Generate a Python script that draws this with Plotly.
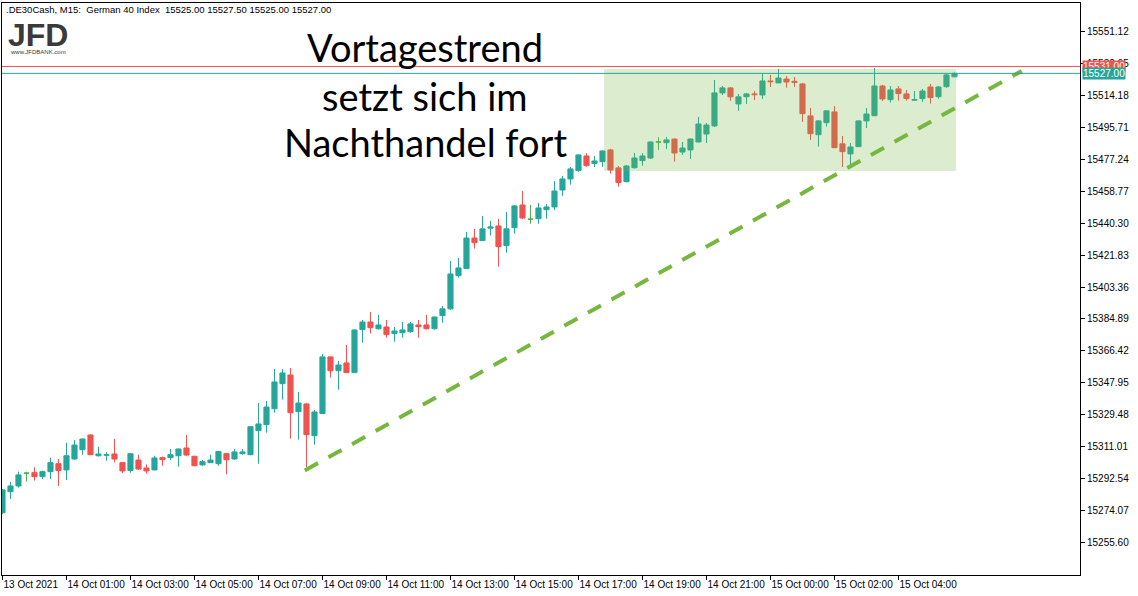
import plotly.graph_objects as go

# ---- data (M15 candles, index 0 = 13 Oct 23:00) ----
opens = [15272.7, 15284.9, 15288.2, 15295.6, 15295.9, 15293.6, 15296.5, 15301.1, 15297.5, 15303.8,
         15309.2, 15317.7, 15305.7, 15306.0, 15306.7, 15301.7, 15297.1, 15303.2, 15298.6, 15297.5,
         15304.6, 15304.6, 15305.7, 15310.2, 15305.4, 15300.4, 15301.7, 15301.1, 15306.9, 15303.8,
         15306.9, 15306.3, 15320.2, 15323.7, 15332.9, 15347.4, 15352.4, 15331.2, 15335.7, 15317.3,
         15330.1, 15362.9, 15354.9, 15359.4, 15353.8, 15378.7, 15383.1, 15379.2, 15380.2, 15376.4,
         15376.9, 15377.5, 15381.4, 15381.4, 15379.2, 15386.8, 15390.7, 15409.9, 15414.0, 15431.7,
         15430.2, 15437.4, 15438.7, 15427.3, 15437.7, 15450.8, 15442.6, 15442.9, 15448.1, 15449.7,
         15459.5, 15465.9, 15470.7, 15479.2, 15474.8, 15475.9, 15482.7, 15472.3, 15464.3, 15472.4,
         15476.5, 15478.0, 15487.3, 15486.9, 15489.0, 15481.5, 15482.7, 15487.3, 15491.9, 15496.6,
         15515.7, 15518.6, 15509.3, 15513.5, 15515.1, 15514.5, 15522.6, 15521.5, 15523.7, 15522.4,
         15520.9, 15502.4, 15491.5, 15498.5, 15504.7, 15486.2, 15480.4, 15484.6, 15499.5, 15502.5,
         15519.7, 15511.8, 15518.0, 15515.1, 15511.5, 15512.4, 15519.1, 15513.5, 15519.3, 15525.0]
highs = [15286.5, 15290.5, 15296.5, 15296.5, 15299.0, 15297.1, 15304.6, 15303.8, 15313.2, 15314.8,
         15315.6, 15318.0, 15310.9, 15307.7, 15315.4, 15302.0, 15307.3, 15306.3, 15300.7, 15305.7,
         15305.2, 15309.6, 15309.8, 15317.7, 15305.6, 15303.2, 15306.3, 15308.5, 15307.3, 15309.6,
         15309.6, 15322.7, 15336.2, 15337.4, 15355.9, 15355.9, 15356.5, 15342.6, 15336.0, 15332.2,
         15364.6, 15363.1, 15360.6, 15369.8, 15378.7, 15384.3, 15388.9, 15387.2, 15384.3, 15380.2,
         15383.1, 15383.1, 15384.3, 15387.2, 15386.2, 15392.4, 15418.4, 15420.2, 15435.2, 15437.0,
         15444.5, 15441.6, 15442.7, 15446.8, 15450.8, 15458.9, 15450.8, 15452.0, 15451.4, 15464.7,
         15467.6, 15472.8, 15480.0, 15480.8, 15479.2, 15482.3, 15483.3, 15473.4, 15474.0, 15480.9,
         15480.9, 15487.5, 15490.0, 15490.2, 15489.2, 15487.3, 15489.2, 15501.8, 15498.3, 15523.2,
         15519.7, 15519.1, 15515.1, 15515.7, 15516.8, 15526.7, 15526.1, 15529.5, 15525.5, 15524.9,
         15521.5, 15507.0, 15500.0, 15505.5, 15508.1, 15490.8, 15486.7, 15499.7, 15507.0, 15530.1,
         15520.3, 15519.7, 15519.7, 15517.4, 15516.8, 15518.0, 15520.9, 15519.7, 15526.7, 15527.5]
lows = [15272.0, 15280.7, 15287.2, 15290.7, 15291.3, 15292.2, 15292.2, 15288.2, 15291.7, 15303.5,
        15306.3, 15306.0, 15305.2, 15302.8, 15301.9, 15295.6, 15295.9, 15297.5, 15295.3, 15297.3,
        15299.9, 15303.2, 15299.4, 15305.7, 15299.7, 15299.9, 15301.5, 15299.9, 15295.0, 15303.4,
        15306.3, 15306.0, 15301.1, 15319.1, 15330.6, 15338.2, 15315.6, 15315.0, 15299.2, 15312.1,
        15329.9, 15350.9, 15343.9, 15353.6, 15353.6, 15371.1, 15376.4, 15378.7, 15374.0, 15371.7,
        15374.0, 15376.9, 15374.0, 15378.7, 15378.7, 15382.7, 15390.1, 15408.8, 15413.8, 15425.6,
        15430.0, 15433.1, 15415.1, 15423.2, 15434.2, 15442.7, 15440.0, 15440.0, 15442.9, 15448.0,
        15456.1, 15462.6, 15470.1, 15473.0, 15472.8, 15473.0, 15469.0, 15461.4, 15464.0, 15471.9,
        15473.6, 15477.5, 15482.7, 15483.3, 15475.9, 15479.8, 15477.5, 15487.1, 15486.7, 15496.0,
        15514.5, 15511.0, 15505.3, 15509.3, 15511.6, 15512.2, 15519.1, 15521.3, 15518.7, 15519.1,
        15498.9, 15488.5, 15484.6, 15496.2, 15483.8, 15472.8, 15474.0, 15484.4, 15495.4, 15502.3,
        15511.0, 15510.1, 15511.2, 15511.2, 15511.2, 15510.5, 15509.5, 15512.4, 15518.7, 15525.0]
closes = [15285.9, 15288.2, 15294.6, 15295.6, 15293.6, 15296.5, 15301.7, 15297.1, 15305.7, 15311.9,
          15315.4, 15306.3, 15306.7, 15306.3, 15303.8, 15296.9, 15306.9, 15298.0, 15296.9, 15304.4,
          15303.4, 15306.3, 15309.6, 15306.1, 15299.9, 15302.3, 15303.2, 15308.1, 15303.4, 15307.9,
          15307.9, 15322.5, 15324.1, 15333.9, 15348.4, 15353.6, 15330.6, 15336.2, 15317.9, 15331.0,
          15362.9, 15354.9, 15358.2, 15353.8, 15378.5, 15383.1, 15379.8, 15381.4, 15375.8, 15377.9,
          15378.5, 15382.0, 15380.4, 15379.2, 15386.0, 15390.7, 15410.9, 15414.4, 15431.7, 15429.0,
          15437.0, 15438.1, 15426.7, 15437.0, 15450.3, 15443.3, 15442.6, 15449.1, 15449.7, 15458.9,
          15465.9, 15471.7, 15479.8, 15473.6, 15476.3, 15482.1, 15471.1, 15463.8, 15473.4, 15478.0,
          15479.2, 15487.3, 15487.3, 15488.5, 15480.9, 15483.8, 15489.0, 15497.7, 15497.1, 15515.7,
          15518.6, 15513.4, 15513.4, 15515.1, 15514.7, 15522.6, 15522.2, 15524.3, 15522.0, 15521.8,
          15503.7, 15492.1, 15499.5, 15505.3, 15484.0, 15481.7, 15484.4, 15499.5, 15503.5, 15519.7,
          15512.2, 15517.4, 15515.3, 15512.4, 15511.8, 15516.8, 15513.0, 15519.1, 15526.1, 15527.0]

tick_index = [0, 8, 16, 24, 32, 40, 48, 56, 64, 72, 80, 88, 96, 104, 112]
tick_labels = ["13 Oct 2021", "14 Oct 01:00", "14 Oct 03:00", "14 Oct 05:00", "14 Oct 07:00",
               "14 Oct 09:00", "14 Oct 11:00", "14 Oct 13:00", "14 Oct 15:00", "14 Oct 17:00",
               "14 Oct 19:00", "14 Oct 21:00", "15 Oct 00:00", "15 Oct 02:00", "15 Oct 04:00"]

price_ticks = [15255.60, 15274.07, 15292.54, 15311.01, 15329.48, 15347.95, 15366.42, 15384.89,
               15403.36, 15421.83, 15440.30, 15458.77, 15477.24, 15495.71, 15514.18, 15532.65,
               15551.12]

trend_x = [37.8, 127.4]
trend_y = [15297.2, 15528.4]

box_x = [75.2, 119.2]
box_y = [15470.5, 15529.5]

ask_price = 15531.00
bid_price = 15527.00

header = ".DE30Cash, M15:\u00a0\u00a0German 40 Index\u00a0\u00a015525.00 15527.50 15525.00 15527.00"
note_lines = ["Vortagestrend", "setzt sich im", "Nachthandel fort"]

# ---- colours ----
UP = "#26a69a"
DOWN = "#ef5350"
DOJI = "#4caf50"
TREND = "rgb(118,184,62)"

n = len(opens)
idx = list(range(n))
normal = [i for i in idx if opens[i] != closes[i]]
doji = [i for i in idx if opens[i] == closes[i]]

fig = go.Figure()
fig.add_trace(go.Candlestick(
    x=normal,
    open=[opens[i] for i in normal], high=[highs[i] for i in normal],
    low=[lows[i] for i in normal], close=[closes[i] for i in normal],
    increasing=dict(line=dict(color=UP, width=1), fillcolor=UP),
    decreasing=dict(line=dict(color=DOWN, width=1), fillcolor=DOWN),
    whiskerwidth=0, hoverinfo="skip", showlegend=False))
fig.add_trace(go.Candlestick(
    x=doji,
    open=[opens[i] for i in doji], high=[highs[i] for i in doji],
    low=[lows[i] for i in doji], close=[closes[i] for i in doji],
    increasing=dict(line=dict(color=DOJI, width=1), fillcolor=DOJI),
    decreasing=dict(line=dict(color=DOJI, width=1), fillcolor=DOJI),
    whiskerwidth=0, hoverinfo="skip", showlegend=False))

fig.add_trace(go.Scatter(x=trend_x, y=trend_y, mode="lines",
                         line=dict(color=TREND, width=4, dash="15px,12px"),
                         hoverinfo="skip", showlegend=False))

fig.add_shape(type="rect", xref="x", yref="y", x0=box_x[0], x1=box_x[1], y0=box_y[0], y1=box_y[1],
              fillcolor="rgba(118,182,70,0.26)", line=dict(width=0), layer="above")
fig.add_shape(type="line", xref="paper", yref="y", x0=0, x1=1, y0=ask_price, y1=ask_price,
              line=dict(color=DOWN, width=1), layer="above")
fig.add_shape(type="line", xref="paper", yref="y", x0=0, x1=1, y0=bid_price, y1=bid_price,
              line=dict(color=UP, width=1), layer="above")

FAM = "Liberation Sans, Arial, sans-serif"
AX_FONT = dict(family=FAM, size=10, color="black")

fig.add_annotation(xref="paper", yref="y", x=1, y=ask_price, xanchor="left", yanchor="middle",
                   xshift=2, text="15531.00", showarrow=False, bgcolor=DOWN, borderpad=0,
                   font=dict(family=FAM, size=10, color="white"))
fig.add_annotation(xref="paper", yref="y", x=1, y=bid_price, xanchor="left", yanchor="middle",
                   xshift=2, text="15527.00", showarrow=False, bgcolor=UP, borderpad=0,
                   font=dict(family=FAM, size=10, color="white"))

# header line
fig.add_annotation(xref="paper", yref="paper", x=0, y=1, xanchor="left", yanchor="top",
                   xshift=2, yshift=1, text=header, showarrow=False,
                   font=dict(family=FAM, size=9.5, color="black"))

# logo
fig.add_annotation(xref="paper", yref="paper", x=0, y=1, xanchor="left", yanchor="top",
                   xshift=4, yshift=-12, text="<b>JFD</b>", showarrow=False,
                   font=dict(family=FAM, size=32, color="#3a3a3a"))
fig.add_annotation(xref="paper", yref="paper", x=0, y=1, xanchor="left", yanchor="top",
                   xshift=6, yshift=-44, text="www.JFDBANK.com", showarrow=False,
                   font=dict(family=FAM, size=6, color="#3a3a3a"))

# big comment text
note_centres_px = [47, 96, 142]
for line, py in zip(note_lines, note_centres_px):
    fig.add_annotation(xref="paper", yref="paper", x=(425 - 2) / 1078, y=(575 - py) / 572,
                       xanchor="center", yanchor="middle", text=line, showarrow=False,
                       font=dict(family="Lato, sans-serif", size=38, color="black"))

fig.update_layout(
    width=1138, height=596,
    margin=dict(l=2, r=58, t=3, b=21, autoexpand=False),
    paper_bgcolor="white", plot_bgcolor="white",
    boxgap=0.2, boxgroupgap=0.2,
    showlegend=False,
    xaxis=dict(range=[-0.06, 134.69], tickmode="array", tickvals=tick_index, ticktext=tick_labels,
               ticks="outside", ticklen=4, tickcolor="black", showgrid=False, zeroline=False,
               showline=True, linecolor="black", linewidth=1, mirror=True, tickangle=0,
               ticklabelposition="outside right", tickfont=AX_FONT, automargin=False,
               rangeslider=dict(visible=False), fixedrange=True),
    yaxis=dict(range=[15236.67, 15567.73], side="right", tickmode="array", tickvals=price_ticks,
               ticktext=[f"{v:.2f}" for v in price_ticks], ticks="outside", ticklen=4,
               tickcolor="black", showgrid=False, zeroline=False, showline=True, automargin=False,
               linecolor="black", linewidth=1, mirror=True, tickfont=AX_FONT, fixedrange=True),
)

fig.write_html("out.html", config={"displayModeBar": False},
               post_script="document.body.style.margin='0';document.body.style.overflow='hidden';")
